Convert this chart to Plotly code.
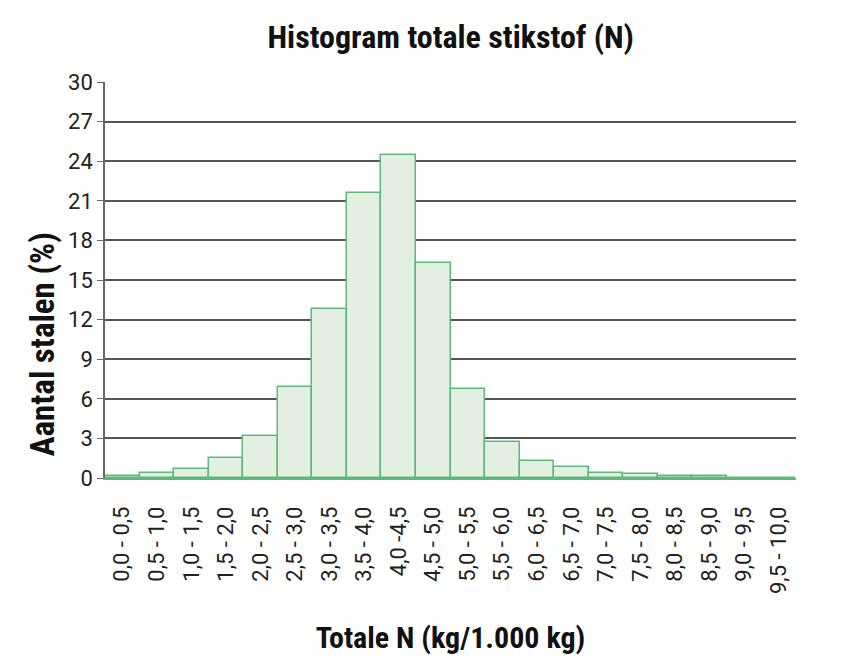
import plotly.graph_objects as go

# bins of total N (kg/1.000 kg) and share of samples (%)
klassen = ["0,0 - 0,5", "0,5 - 1,0", "1,0 - 1,5", "1,5 - 2,0", "2,0 - 2,5",
           "2,5 - 3,0", "3,0 - 3,5", "3,5 - 4,0", "4,0 -4,5", "4,5 - 5,0",
           "5,0 - 5,5", "5,5 - 6,0", "6,0 - 6,5", "6,5 - 7,0", "7,0 - 7,5",
           "7,5 - 8,0", "8,0 - 8,5", "8,5 - 9,0", "9,0 - 9,5", "9,5 - 10,0"]
percentages = [0.15, 0.4, 0.7, 1.5, 3.2, 6.9, 12.8, 21.6, 24.5, 16.3,
               6.75, 2.75, 1.3, 0.85, 0.4, 0.3, 0.15, 0.15, 0, 0]
y_ticks = [0, 3, 6, 9, 12, 15, 18, 21, 24, 27, 30]

bold_font = "Liberation Sans Narrow, Roboto Condensed, Roboto, sans-serif"
tick_font = "Roboto, Liberation Sans, sans-serif"

fig = go.Figure()
fig.add_trace(go.Bar(
    x=klassen, y=percentages,
    marker=dict(color="#e3f0e1", line=dict(color="#5cb97a", width=1.5)),
    width=1.0,
))

# page body adds an 8px offset, margins are compensated for it
fig.update_layout(
    width=863, height=669,
    margin=dict(l=97, r=75, t=74, b=199),
    plot_bgcolor="white", paper_bgcolor="white",
    showlegend=False,
    bargap=0,
    title=dict(text="<b>Histogram totale stikstof (N)</b>", x=0.513, xanchor="center",
               xref="container", y=0.957, yanchor="middle",
               font=dict(family=bold_font, size=32, color="#111111")),
)

# y title sits lower than the plot centre in the original, so an annotation
fig.add_annotation(
    text="<b>Aantal stalen (%)</b>", textangle=-90,
    xref="paper", yref="paper", x=-0.091, y=0.338,
    xanchor="center", yanchor="middle", showarrow=False,
    font=dict(family=bold_font, size=33, color="#111111"),
)

fig.update_yaxes(
    range=[0, 30], tickvals=y_ticks, automargin=False,
    showgrid=True, gridcolor="#555555", gridwidth=1.5,
    showline=True, linecolor="#666666", linewidth=1.5,
    ticks="outside", ticklen=6, tickcolor="#666666",
    zeroline=False,
    tickfont=dict(family=tick_font, size=22, color="#222222"),
)
fig.update_xaxes(
    tickangle=-90, automargin=False,
    showline=True, linecolor="#5cb97a", linewidth=1.5,
    ticks="", showgrid=False, ticklabelstandoff=18,
    tickfont=dict(family=tick_font, size=22, color="#222222"),
    title=dict(text="<b>Totale N (kg/1.000 kg)</b>", standoff=34,
               font=dict(family=bold_font, size=30, color="#111111")),
)

fig.write_html("out.html")
